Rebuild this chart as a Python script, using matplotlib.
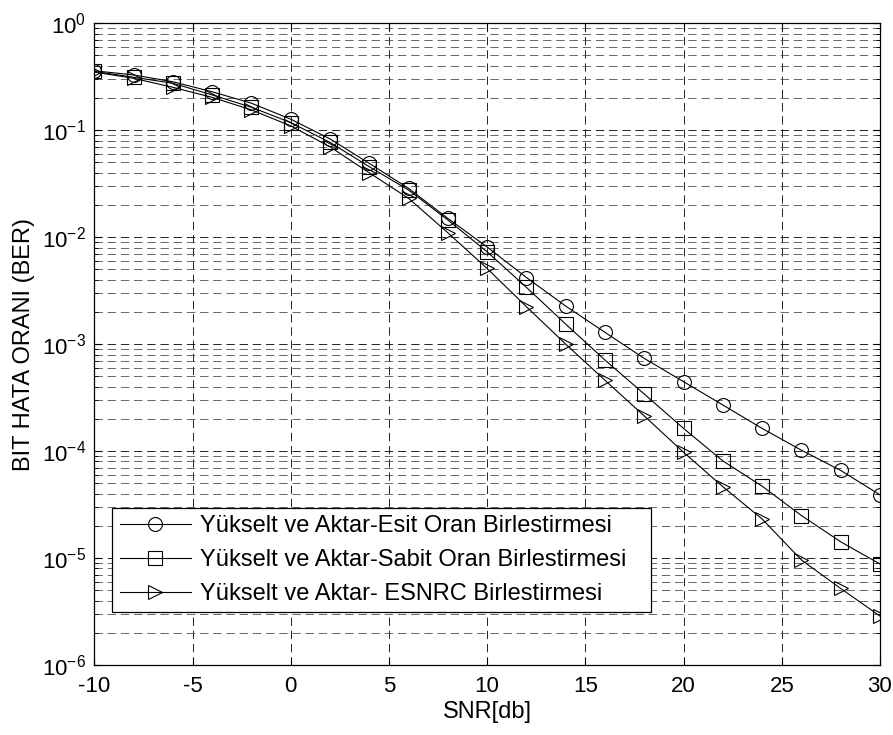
import numpy as np
import matplotlib
matplotlib.use('Agg')
import matplotlib.pyplot as plt
from matplotlib.ticker import LogLocator, NullFormatter, MultipleLocator

plt.rcParams['font.family'] = ['Liberation Sans', 'DejaVu Sans']
plt.rcParams['mathtext.fontset'] = 'custom'
plt.rcParams['mathtext.rm'] = 'Liberation Sans'
plt.rcParams['axes.unicode_minus'] = False
plt.rcParams['lines.scale_dashes'] = False

# SNR values (dB)
snr = [-10, -8, -6, -4, -2, 0, 2, 4, 6, 8, 10, 12, 14, 16, 18, 20, 22, 24, 26, 28, 30]

# BER
ber_esit = [0.36, 0.329, 0.284, 0.229, 0.179, 0.127, 0.083, 0.049, 0.0286, 0.0150, 0.0081,
            0.0042, 0.00227, 0.00129, 0.000736, 0.000446, 0.00027, 0.000163, 0.000102,
            6.6e-5, 3.9e-5]
ber_sabit = [0.355, 0.313, 0.275, 0.214, 0.164, 0.118, 0.077, 0.0456, 0.0276, 0.0145, 0.0073,
             0.0034, 0.00154, 0.00071, 0.000342, 0.000163, 8.1e-5, 4.7e-5, 2.5e-5,
             1.42e-5, 8.8e-6]
ber_esnrc = [0.35, 0.306, 0.252, 0.203, 0.155, 0.110, 0.070, 0.040, 0.0231, 0.0110, 0.0051,
             0.00224, 0.00100, 0.00046, 0.000213, 9.75e-5, 4.65e-5, 2.32e-5, 9.6e-6,
             5.2e-6, 2.87e-6]

labels = ['Yükselt ve Aktar-Esit Oran Birlestirmesi',
          'Yükselt ve Aktar-Sabit Oran Birlestirmesi',
          'Yükselt ve Aktar- ESNRC Birlestirmesi']

fig = plt.figure(figsize=(8.93, 7.35), dpi=100)
ax = fig.add_axes([0.1056, 0.0952, 0.8798, 0.8731])

mk = dict(color='k', lw=0.8, markersize=10, markerfacecolor='none', markeredgewidth=0.8)
ax.semilogy(snr, ber_esit, marker='o', label=labels[0], **mk)
ax.semilogy(snr, ber_sabit, marker='s', label=labels[1], **mk)
ax.semilogy(snr, ber_esnrc, marker='>', label=labels[2], **mk)

ax.set_xlim(-10, 30)
ax.set_ylim(1e-6, 1)
ax.xaxis.set_major_locator(MultipleLocator(5))
ax.yaxis.set_major_locator(LogLocator(base=10, numticks=10))
ax.yaxis.set_minor_locator(LogLocator(base=10, subs=np.arange(2, 10), numticks=10))
ax.yaxis.set_minor_formatter(NullFormatter())

# Plot settings
ax.grid(True, which='major', axis='both', color='k', lw=0.6, dashes=(6, 3.5))
ax.grid(True, which='minor', axis='y', color='0.3', lw=0.6, dashes=(6, 3.5))
ax.tick_params(which='both', direction='in', top=True, right=True, labelsize=16)
ax.tick_params(which='major', length=5)
ax.tick_params(which='minor', length=3)
ax.tick_params(axis='x', pad=8)
ax.tick_params(axis='y', pad=6)
for s in ax.spines.values():
    s.set_linewidth(0.9)

ax.set_xlabel('SNR[db]', fontsize=17, labelpad=3)
ax.set_ylabel('BIT HATA ORANI (BER)', fontsize=17, labelpad=5)

leg = ax.legend(loc='lower left', bbox_to_anchor=(0.023, 0.082, 0.6855, 0.171), mode='expand',
                fontsize=17, fancybox=False, framealpha=1, edgecolor='k',
                handlelength=3.0, handletextpad=0.4, borderaxespad=0,
                borderpad=0.32, labelspacing=0.5)
leg.get_frame().set_linewidth(0.9)

fig.savefig('out.png', dpi=100)
